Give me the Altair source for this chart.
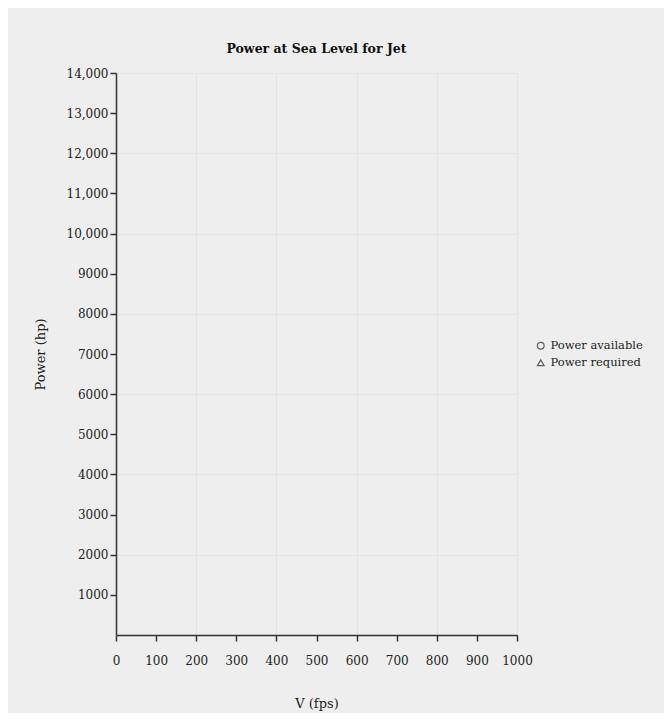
import altair as alt
import pandas as pd

# Series shown in the legend (the reference plot area holds no visible points)
series_names = ["Power available", "Power required"]
series_shapes = ["circle", "triangle-up"]
velocity_fps = [None, None]
power_hp = [None, None]

x_ticks = [0, 100, 200, 300, 400, 500, 600, 700, 800, 900, 1000]
y_ticks = [1000, 2000, 3000, 4000, 5000, 6000, 7000, 8000, 9000,
           10000, 11000, 12000, 13000, 14000]

df = pd.DataFrame({"series": series_names, "V": velocity_fps, "P": power_hp})

FONT = "DejaVu Serif"
INK = "#222222"

chart = alt.Chart(df).mark_point(filled=False, stroke=INK, size=45).encode(
    x=alt.X("V:Q", title="V (fps)",
            scale=alt.Scale(domain=[0, 1000], nice=False, zero=False),
            axis=alt.Axis(values=x_ticks, format="d", labelPadding=14,
                          labelOverlap=False, labelBound=False, labelFlush=False,
                          titlePadding=31, tickSize=6,
                          gridOpacity={"condition": {"test": "datum.value % 200 === 0 && datum.value > 0", "value": 1}, "value": 0})),
    y=alt.Y("P:Q", title="Power (hp)",
            scale=alt.Scale(domain=[0, 14000], nice=False, zero=False),
            axis=alt.Axis(values=y_ticks, tickSize=6, labelPadding=2,
                          labelOverlap=False, labelFlush=False, titlePadding=19,
                          labelExpr="datum.value >= 10000 ? format(datum.value, ',') : format(datum.value, 'd')",
                          gridOpacity={"condition": {"test": "datum.value % 2000 === 0", "value": 1}, "value": 0})),
    shape=alt.Shape("series:N", title=None,
                    scale=alt.Scale(domain=series_names, range=series_shapes),
                    legend=alt.Legend(orient="none", legendX=419, legendY=267,
                                      symbolStrokeColor=INK, symbolFillColor="transparent",
                                      symbolSize=45, labelFontSize=11.5, labelColor=INK,
                                      labelFont=FONT, rowPadding=4, symbolStrokeWidth=1.2)),
).properties(
    width=401,
    height=562,
    title=alt.Title("Power at Sea Level for Jet", font=FONT, fontSize=12.5,
                    fontWeight="bold", color="#111111", offset=12),
    background="#eeeeee",
    padding={"left": 108, "top": 65, "right": 147, "bottom": 78},
    autosize=alt.AutoSizeParams(type="none"),
).configure_view(
    stroke=None
).configure_axis(
    labelFont=FONT, titleFont=FONT, labelFontSize=12, titleFontSize=13,
    titleFontWeight="normal", labelColor=INK, titleColor=INK,
    domainColor="#333333", tickColor="#333333", domainWidth=1.5, tickWidth=1.5,
    gridColor="#e4e4e4", gridWidth=1
)

chart.save("out.html", embed_options={"renderer": "svg", "actions": False})
